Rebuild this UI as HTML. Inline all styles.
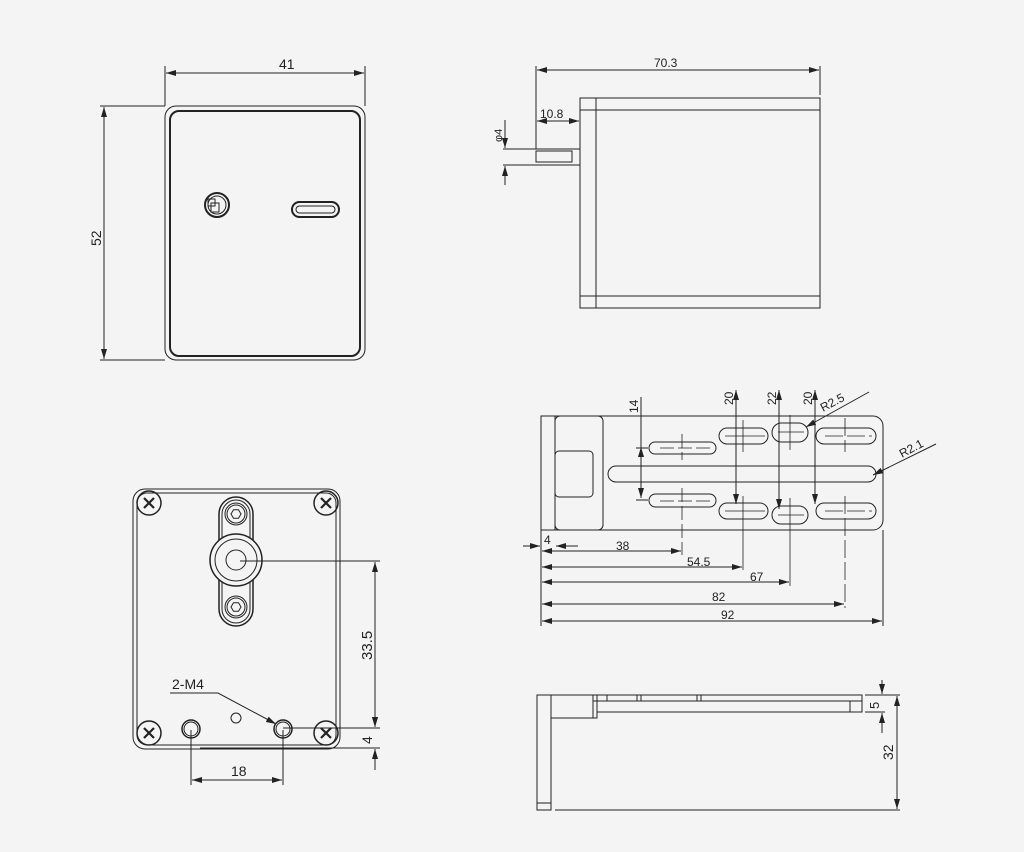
<!DOCTYPE html>
<html><head><meta charset="utf-8"><style>
html,body{margin:0;padding:0;background:#f4f4f4}
svg{display:block}
text{font-family:"Liberation Sans",sans-serif;fill:#222}
</style></head><body>
<svg width="1024" height="852" viewBox="0 0 1024 852" xmlns="http://www.w3.org/2000/svg">
<defs>
<marker id="a" viewBox="0 0 10 6" refX="10" refY="3" markerWidth="10" markerHeight="6" markerUnits="userSpaceOnUse" orient="auto-start-reverse"><path d="M0,0L10,3L0,6z" fill="#222"/></marker>
</defs>
<rect width="1024" height="852" fill="#f4f4f4"/>
<g fill="none" stroke="#222" stroke-width="1">
<!-- Front view -->
<rect x="165" y="106" width="200" height="254" rx="11"/>
<rect x="170" y="111" width="190" height="245" rx="9" stroke-width="2"/>
<line x1="165" y1="66" x2="165" y2="106"/><line x1="365" y1="66" x2="365" y2="106"/>
<line x1="166" y1="73" x2="364" y2="73" marker-start="url(#a)" marker-end="url(#a)"/>
<line x1="100" y1="106" x2="165" y2="106"/><line x1="100" y1="360" x2="165" y2="360"/>
<line x1="104" y1="107" x2="104" y2="359" marker-start="url(#a)" marker-end="url(#a)"/>
<circle cx="217" cy="205" r="12" stroke-width="2"/><circle cx="217" cy="205" r="9"/>
<rect x="208" y="199" width="7" height="7"/><rect x="211" y="203" width="8" height="9"/>
<rect x="292" y="202" width="47" height="15" rx="7.5" stroke-width="2"/>
<rect x="296" y="206" width="39" height="7" rx="3.5"/>
<!-- Side view -->
<line x1="536" y1="66" x2="536" y2="149"/><line x1="820" y1="66" x2="820" y2="95"/>
<line x1="537" y1="70" x2="819" y2="70" marker-start="url(#a)" marker-end="url(#a)"/>
<line x1="537" y1="121" x2="579" y2="121" marker-start="url(#a)" marker-end="url(#a)"/>
<rect x="580" y="98" width="240" height="210"/>
<line x1="596" y1="98" x2="596" y2="308"/>
<line x1="580" y1="110" x2="820" y2="110"/><line x1="580" y1="296" x2="820" y2="296"/>
<line x1="503" y1="149" x2="580" y2="149"/><line x1="503" y1="165" x2="580" y2="165"/>
<rect x="536" y="151" width="36" height="11"/>
<line x1="505" y1="120" x2="505" y2="148" marker-end="url(#a)"/>
<line x1="505" y1="185" x2="505" y2="166" marker-end="url(#a)"/>
<!-- Bottom-left view -->
<rect x="133" y="489" width="207" height="260" rx="12"/>
<rect x="137" y="493" width="199" height="252" rx="10"/>
<g stroke-width="1.5">
<circle cx="149" cy="503" r="12"/><circle cx="326" cy="503" r="12"/>
<circle cx="149" cy="733" r="12"/><circle cx="326" cy="733" r="12"/>
</g>
<g stroke-width="2.2">
<path d="M144,498l10,10M154,498l-10,10M321,498l10,10M331,498l-10,10M144,728l10,10M154,728l-10,10M321,728l10,10M331,728l-10,10"/>
</g>
<rect x="219" y="497" width="34" height="129" rx="17" stroke-width="1.5"/>
<rect x="222" y="500" width="28" height="123" rx="14"/>
<circle cx="236" cy="560" r="26" fill="#f4f4f4" stroke-width="1.5"/><circle cx="236" cy="560" r="21"/><circle cx="236" cy="560" r="10"/>
<circle cx="236" cy="514" r="11"/><circle cx="236" cy="514" r="9"/>
<polygon points="241,514 238.5,518.3 233.5,518.3 231,514 233.5,509.7 238.5,509.7"/>
<circle cx="236" cy="607" r="11"/><circle cx="236" cy="607" r="9"/>
<polygon points="241,607 238.5,611.3 233.5,611.3 231,607 233.5,602.7 238.5,602.7"/>
<circle cx="191" cy="729" r="9" stroke-width="1.5"/><circle cx="191" cy="729" r="7"/>
<circle cx="283" cy="729" r="9" stroke-width="1.5"/><circle cx="283" cy="729" r="7"/>
<circle cx="236" cy="718" r="5"/>
<line x1="191" y1="730" x2="191" y2="785"/><line x1="283" y1="730" x2="283" y2="785"/>
<line x1="192" y1="780" x2="282" y2="780" marker-start="url(#a)" marker-end="url(#a)"/>
<polyline points="170,693 218,693 276,724" marker-end="url(#a)"/>
<line x1="240" y1="561" x2="380" y2="561"/>
<line x1="283" y1="728" x2="380" y2="728"/><line x1="200" y1="748" x2="380" y2="748"/>
<line x1="375" y1="562" x2="375" y2="727" marker-start="url(#a)" marker-end="url(#a)"/>
<line x1="375" y1="710" x2="375" y2="727" marker-end="url(#a)"/>
<line x1="375" y1="770" x2="375" y2="749" marker-end="url(#a)"/>
<!-- Bracket top view -->
<path d="M541,416H873a10,10 0 0 1 10,10V520a10,10 0 0 1 -10,10H541z"/>
<line x1="555" y1="416" x2="555" y2="530"/>
<rect x="555" y="416" width="48" height="114" rx="5"/>
<rect x="555" y="451" width="38" height="46" rx="4"/>
<rect x="608" y="466" width="268" height="16" rx="8"/>
<rect x="649" y="442" width="67" height="12" rx="6"/>
<rect x="649" y="494" width="67" height="13" rx="6.5"/>
<rect x="719" y="428" width="49" height="16" rx="8"/>
<rect x="772" y="423" width="36" height="19" rx="9.5"/>
<rect x="816" y="428" width="60" height="16" rx="8"/>
<rect x="719" y="503" width="49" height="16" rx="8"/>
<rect x="772" y="506" width="36" height="18" rx="9"/>
<rect x="816" y="503" width="60" height="16" rx="8"/>
<g stroke-width="0.8">
<path d="M682,434V460M682,488V555M660,448H712M660,501H712" stroke-dasharray="14,4"/>
<path d="M743,420V452M743,496V570M725,436H765M725,511H765"/>
<path d="M790,415V450M790,498V586M778,432H804M778,515H804"/>
<path d="M845,418V452M845,496V608M825,436H872M825,511H872" stroke-dasharray="18,4"/>
</g>
<line x1="541" y1="530" x2="541" y2="626"/><line x1="883" y1="530" x2="883" y2="626"/>
<line x1="523" y1="546" x2="540" y2="546" marker-end="url(#a)"/>
<line x1="578" y1="546" x2="556" y2="546" marker-end="url(#a)"/>
<line x1="542" y1="551" x2="681" y2="551" marker-start="url(#a)" marker-end="url(#a)"/>
<line x1="542" y1="567" x2="742" y2="567" marker-start="url(#a)" marker-end="url(#a)"/>
<line x1="542" y1="582" x2="789" y2="582" marker-start="url(#a)" marker-end="url(#a)"/>
<line x1="542" y1="604" x2="844" y2="604" marker-start="url(#a)" marker-end="url(#a)"/>
<line x1="542" y1="621" x2="882" y2="621" marker-start="url(#a)" marker-end="url(#a)"/>
<line x1="641" y1="397" x2="641" y2="448"/>
<line x1="641" y1="470" x2="641" y2="447" marker-end="url(#a)"/>
<line x1="641" y1="470" x2="641" y2="498" marker-end="url(#a)"/>
<line x1="636" y1="448" x2="648" y2="448"/><line x1="636" y1="500" x2="648" y2="500"/>
<line x1="736" y1="390" x2="736" y2="504" marker-start="url(#a)" marker-end="url(#a)"/>
<line x1="779" y1="390" x2="779" y2="509" marker-start="url(#a)" marker-end="url(#a)"/>
<line x1="815" y1="390" x2="815" y2="504" marker-start="url(#a)" marker-end="url(#a)"/>
<line x1="869" y1="392" x2="806" y2="427" marker-end="url(#a)"/>
<line x1="936" y1="444" x2="873" y2="475" marker-end="url(#a)"/>
<!-- Bracket side view -->
<rect x="537" y="695" width="14" height="115"/>
<line x1="537" y1="803" x2="551" y2="803"/>
<rect x="551" y="695" width="42" height="23"/>
<rect x="593" y="695" width="4" height="23"/>
<rect x="593" y="695" width="269" height="6"/>
<rect x="597" y="701" width="265" height="11"/>
<path d="M607,695V701M637,695V701M641,695V701M697,695V701M701,695V701M850,701V712"/>
<line x1="555" y1="810" x2="900" y2="810"/>
<line x1="865" y1="695" x2="900" y2="695"/><line x1="865" y1="712" x2="885" y2="712"/>
<line x1="882" y1="680" x2="882" y2="694" marker-end="url(#a)"/>
<line x1="882" y1="733" x2="882" y2="713" marker-end="url(#a)"/>
<line x1="897" y1="696" x2="897" y2="809" marker-start="url(#a)" marker-end="url(#a)"/>
</g>
<g font-size="13">
<text x="279" y="69" font-size="14">41</text>
<text transform="translate(101,246) rotate(-90)" font-size="14">52</text>
<text x="654" y="67" font-size="12">70.3</text>
<text x="540" y="118" font-size="12">10.8</text>
<text transform="translate(502,142) rotate(-90)" font-size="11">φ4</text>
<text x="172" y="689" font-size="14">2-M4</text>
<text x="231" y="776" font-size="14">18</text>
<text transform="translate(372,660) rotate(-90)" font-size="15">33.5</text>
<text transform="translate(372,744) rotate(-90)" font-size="14">4</text>
<text x="544" y="544" font-size="12">4</text>
<text x="616" y="550" font-size="12">38</text>
<text x="687" y="566" font-size="12">54.5</text>
<text x="750" y="581" font-size="12">67</text>
<text x="712" y="601" font-size="12">82</text>
<text x="721" y="619" font-size="12">92</text>
<text transform="translate(638,413) rotate(-90)" font-size="12">14</text>
<text transform="translate(733,405) rotate(-90)" font-size="12">20</text>
<text transform="translate(776,405) rotate(-90)" font-size="12">22</text>
<text transform="translate(812,405) rotate(-90)" font-size="12">20</text>
<text transform="translate(823,412) rotate(-28)" font-size="12">R2.5</text>
<text transform="translate(902,458) rotate(-28)" font-size="12">R2.1</text>
<text transform="translate(879,709) rotate(-90)" font-size="13">5</text>
<text transform="translate(893,760) rotate(-90)" font-size="14">32</text>
</g>
</svg>
</body></html>
